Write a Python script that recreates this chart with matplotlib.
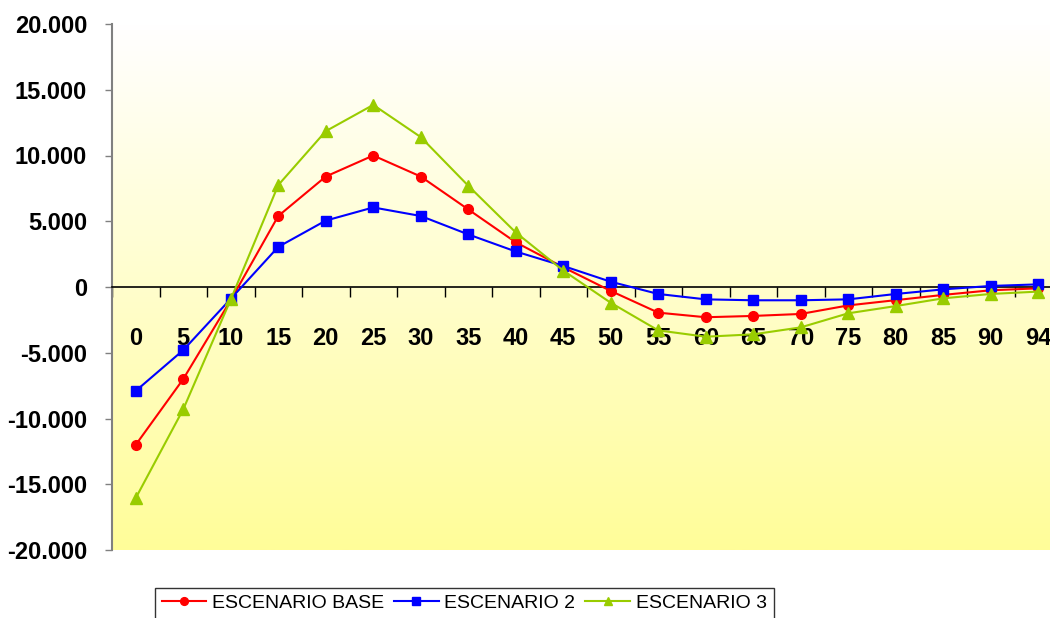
import numpy as np
import matplotlib
matplotlib.use("Agg")
import matplotlib.pyplot as plt
from matplotlib.ticker import FuncFormatter, FixedLocator
from matplotlib.colors import LinearSegmentedColormap

plt.rcParams['font.family'] = ['Liberation Sans', 'DejaVu Sans']

years = [0, 5, 10, 15, 20, 25, 30, 35, 40, 45, 50, 55, 60, 65, 70, 75, 80, 85, 90, 94]
base = [-12000, -7000, -1000, 5400, 8400, 10000, 8400, 5900, 3400, 1500,
        -300, -1950, -2300, -2200, -2050, -1400, -1000, -600, -250, -100]
esc2 = [-7900, -4800, -900, 3050, 5050, 6050, 5400, 4000, 2700, 1600,
        400, -530, -940, -1010, -1010, -940, -530, -180, 80, 200]
esc3 = [-16050, -9300, -950, 7750, 11850, 13850, 11400, 7700, 4150, 1250,
        -1200, -3300, -3780, -3600, -3070, -2000, -1450, -860, -530, -350]

fig = plt.figure(figsize=(10.5, 6.18), dpi=100)
ax = fig.add_axes([112 / 1050, 68 / 618, 950 / 1050, 526 / 618])

# white-to-yellow vertical fill behind the plot
cmap = LinearSegmentedColormap.from_list('bg', ['#FFFFFF', '#FFFD99'])
grad = np.linspace(0, 1, 256).reshape(-1, 1)
ax.imshow(grad, cmap=cmap, aspect='auto', extent=[-0.5, 19.5, -20000, 20000],
          origin='upper', zorder=0)

x = np.arange(len(years))
ax.plot(x, base, color='#FF0000', lw=1.5, marker='o', ms=7, label='ESCENARIO BASE', zorder=3)
ax.plot(x, esc2, color='#0000FF', lw=1.5, marker='s', ms=7, label='ESCENARIO 2', zorder=3)
ax.plot(x, esc3, color='#99CC00', lw=1.5, marker='^', ms=8, label='ESCENARIO 3', zorder=3)

ax.set_xlim(-0.5, 19.5)
ax.set_ylim(-20000, 20000)

ax.spines['top'].set_visible(False)
ax.spines['right'].set_visible(False)
ax.spines['left'].set_color('#808080')
ax.spines['left'].set_linewidth(1.5)
ax.spines['bottom'].set_position(('data', 0))
ax.spines['bottom'].set_color('black')
ax.spines['bottom'].set_linewidth(1.2)

ax.set_yticks(np.arange(-20000, 20001, 5000))
ax.yaxis.set_major_formatter(FuncFormatter(lambda v, p: f'{int(v):,}'.replace(',', '.')))
ax.tick_params(axis='y', direction='out', length=5, width=1, color='#808080', pad=13,
               labelsize=17)
for t in ax.get_yticklabels():
    t.set_fontweight('bold')

ax.xaxis.set_major_locator(FixedLocator(x))
ax.set_xticklabels([str(v) for v in years], fontsize=17, fontweight='bold')
ax.xaxis.set_minor_locator(FixedLocator(np.arange(-0.5, 20, 1)))
ax.tick_params(axis='x', which='major', length=0, pad=29)
ax.tick_params(axis='x', which='minor', direction='out', length=7, width=1, color='black')

leg = fig.legend(loc='upper left', bbox_to_anchor=(145 / 1050, 1 - 578 / 618), ncol=3,
                 fontsize=14, frameon=True, fancybox=False, handlelength=2.3,
                 handletextpad=0.3, columnspacing=0.5, borderpad=0.35, markerscale=0.8)
leg.get_frame().set_edgecolor('black')
leg.get_frame().set_linewidth(1)

fig.savefig('out.png', dpi=100)
